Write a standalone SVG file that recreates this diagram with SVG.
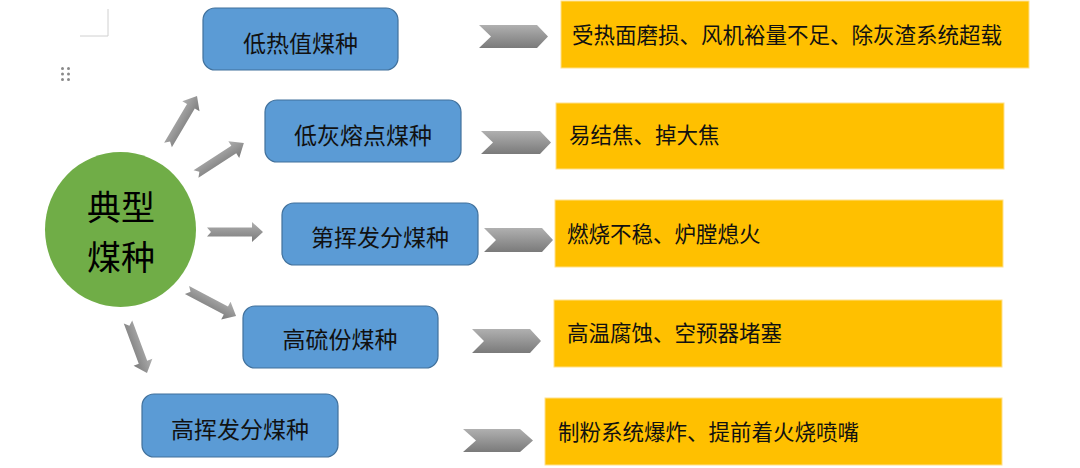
<svg xmlns="http://www.w3.org/2000/svg" width="1080" height="468" viewBox="0 0 1080 468">
  <defs>
    <linearGradient id="gray" x1="0" y1="0" x2="0" y2="1">
      <stop offset="0" stop-color="#b0b0b0"/>
      <stop offset="1" stop-color="#7a7a7a"/>
    </linearGradient>
    <style>
      .blue { fill: #5B9BD5; stroke: #41719C; stroke-width: 1.2; }
      .orange { fill: #FFC000; stroke: #FFE08A; stroke-width: 1; }
      .arrow { fill: url(#gray); }
      .lbl { font-family: "Noto Sans CJK SC", "Noto Sans", sans-serif; font-size: 23px; fill: #111; text-anchor: middle; dominant-baseline: central; }
      .note { font-family: "Noto Sans CJK SC", "Noto Sans", sans-serif; font-size: 21.5px; fill: #111; dominant-baseline: central; }
      .big { font-family: "Noto Sans CJK SC", "Noto Sans", sans-serif; font-size: 34px; fill: #000; text-anchor: middle; dominant-baseline: central; }
    </style>
  </defs>
  <rect width="1080" height="468" fill="#ffffff"/>

  <!-- page marks -->
  <g id="page-marks">
    <path d="M108,9 V36 H80" fill="none" stroke="#d0d0d0" stroke-width="1"/>
    <g fill="#8a8a8a">
      <circle cx="62.5" cy="68.5" r="1.5"/><circle cx="68.5" cy="68.5" r="1.5"/>
      <circle cx="62.5" cy="74" r="1.5"/><circle cx="68.5" cy="74" r="1.5"/>
      <circle cx="62.5" cy="79.5" r="1.5"/><circle cx="68.5" cy="79.5" r="1.5"/>
    </g>
  </g>

  <!-- central node -->
  <g id="center">
    <ellipse cx="120.5" cy="229.5" rx="75.5" ry="77.5" fill="#70AD47"/>
    <text class="big" x="121" y="205">典型</text>
    <text class="big" x="121" y="255">煤种</text>
  </g>

  <!-- coal type nodes -->
  <g id="n1"><rect class="blue" x="203" y="8" width="195" height="62" rx="12"/><text class="lbl" x="300.5" y="42">低热值煤种</text></g>
  <g id="n2"><rect class="blue" x="265" y="100" width="196" height="62" rx="12"/><text class="lbl" x="363" y="134">低灰熔点煤种</text></g>
  <g id="n3"><rect class="blue" x="282" y="203" width="196" height="62" rx="12"/><text class="lbl" x="380" y="236">第挥发分煤种</text></g>
  <g id="n4"><rect class="blue" x="243" y="306" width="195" height="62" rx="12"/><text class="lbl" x="340" y="338">高硫份煤种</text></g>
  <g id="n5"><rect class="blue" x="142" y="394" width="196" height="63" rx="12"/><text class="lbl" x="240" y="428">高挥发分煤种</text></g>

  <!-- consequence nodes -->
  <g id="c1"><rect class="orange" x="561" y="1" width="468" height="67"/><text class="note" x="572" y="33">受热面磨损、风机裕量不足、除灰渣系统超载</text></g>
  <g id="c2"><rect class="orange" x="556" y="103" width="448" height="66"/><text class="note" x="569" y="133">易结焦、掉大焦</text></g>
  <g id="c3"><rect class="orange" x="555" y="200" width="448" height="67"/><text class="note" x="567" y="232">燃烧不稳、炉膛熄火</text></g>
  <g id="c4"><rect class="orange" x="554" y="300" width="448" height="67"/><text class="note" x="567" y="331">高温腐蚀、空预器堵塞</text></g>
  <g id="c5"><rect class="orange" x="545" y="398" width="457" height="67"/><text class="note" x="558" y="430">制粉系统爆炸、提前着火烧喷嘴</text></g>

  <!-- connectors -->
  <g id="connectors">
    <path class="arrow" transform="translate(168,145) rotate(-59.4)" d="M0,-4.5 H45 V-10 L57,0 L45,10 V4.5 H0 L4,0 Z"/>
    <path class="arrow" transform="translate(196,174) rotate(-32.9)" d="M0,-4.5 H45 V-10 L57,0 L45,10 V4.5 H0 L4,0 Z"/>
    <path class="arrow" transform="translate(207,232) rotate(0)" d="M0,-4.5 H45 V-10 L56,0 L45,10 V4.5 H0 L4,0 Z"/>
    <path class="arrow" transform="translate(187,290) rotate(27.9)" d="M0,-4.5 H44 V-10 L55.5,0 L44,10 V4.5 H0 L4,0 Z"/>
    <path class="arrow" transform="translate(128,322) rotate(69.6)" d="M0,-4.5 H43 V-10 L54.5,0 L43,10 V4.5 H0 L4,0 Z"/>

    <path class="arrow" d="M479,25 H537 L548,36.5 L537,48 H479 L491,36.5 Z"/>
    <path class="arrow" d="M481,131 H540 L551,142.5 L540,154 H481 L493,142.5 Z"/>
    <path class="arrow" d="M484,228 H542 L553,240 L542,252 H484 L496,240 Z"/>
    <path class="arrow" d="M472,329 H530 L541,341 L530,353 H472 L484,341 Z"/>
    <path class="arrow" d="M463,429 H520 L533,440.5 L520,452 H463 L476,440.5 Z"/>
  </g>
</svg>
